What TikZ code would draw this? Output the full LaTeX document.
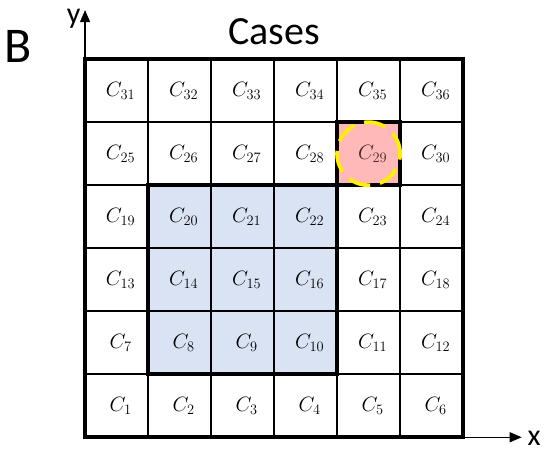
\documentclass[tikz,border=0pt]{standalone}
\usepackage{fontspec}
\newfontfamily\calib{Carlito}
\usetikzlibrary{arrows.meta}

\definecolor{caseblue}{HTML}{DAE3F3}
\definecolor{casepink}{HTML}{FFB9B9}
\definecolor{markyellow}{HTML}{FFF000}
\definecolor{darkred}{HTML}{4A2626}

\tikzset{
  cell/.style={font=\fontsize{22}{24}\selectfont, xshift=4pt},
  gridline/.style={line width=1.8pt},
  boldline/.style={line width=3.8pt},
  axis/.style={line width=1.2pt, -{Triangle[length=12pt,width=10pt]}},
}

\begin{document}
\begin{tikzpicture}[x=63pt,y=63pt]

    \useasboundingbox (-1.35,-0.27) rectangle (7.30,6.94);

    % shaded regions
    \fill[caseblue] (1,1) rectangle (4,4);
    \fill[casepink] (4,4) rectangle (5,5);

    % grid
    \foreach \i in {1,...,5} {
        \draw[gridline] (\i,0) -- (\i,6);
        \draw[gridline] (0,\i) -- (6,\i);
    }
    \draw[boldline] (1,1) rectangle (4,4);
    \draw[boldline] (4,4) rectangle (5,5);
    \draw[boldline] (0,0) rectangle (6,6);

    % case labels
    \foreach \r in {0,...,5} {
        \foreach \c in {0,...,5} {
            \pgfmathtruncatemacro{\n}{6*\r+\c+1}
            \ifnum\n=29
                \node[cell, text=darkred] (c\n) at (\c+0.5,\r+0.5) {$C_{\n}$};
            \else
                \node[cell] (c\n) at (\c+0.5,\r+0.5) {$C_{\n}$};
            \fi
        }
    }

    % marked case
    \draw[markyellow, line width=3.8pt, dash pattern=on 22pt off 10pt] (4.5,4.5) circle (0.5);

    % axes
    \coordinate (o) at (0,0);
    \coordinate (xtip) at (6.93,0);
    \coordinate (ytip) at (0,6.78);
    \draw[axis] (6,0) -- (xtip);
    \draw[axis] (0,6) -- (ytip);
    \node[font=\calib\fontsize{30}{32}\selectfont, anchor=base west, inner sep=0pt] (xlab) at (7.02,-0.13) {x};
    \node[font=\calib\fontsize{30}{32}\selectfont, anchor=base east, inner sep=0pt] (ylab) at (-0.07,6.56) {y};

    \node[font=\calib\fontsize{50}{52}\selectfont] (panel) at (-1.06,6.2) {B};
    \node[font=\calib\fontsize{40}{42}\selectfont] (title) at (3,6.44) {Cases};

\end{tikzpicture}
\end{document}
